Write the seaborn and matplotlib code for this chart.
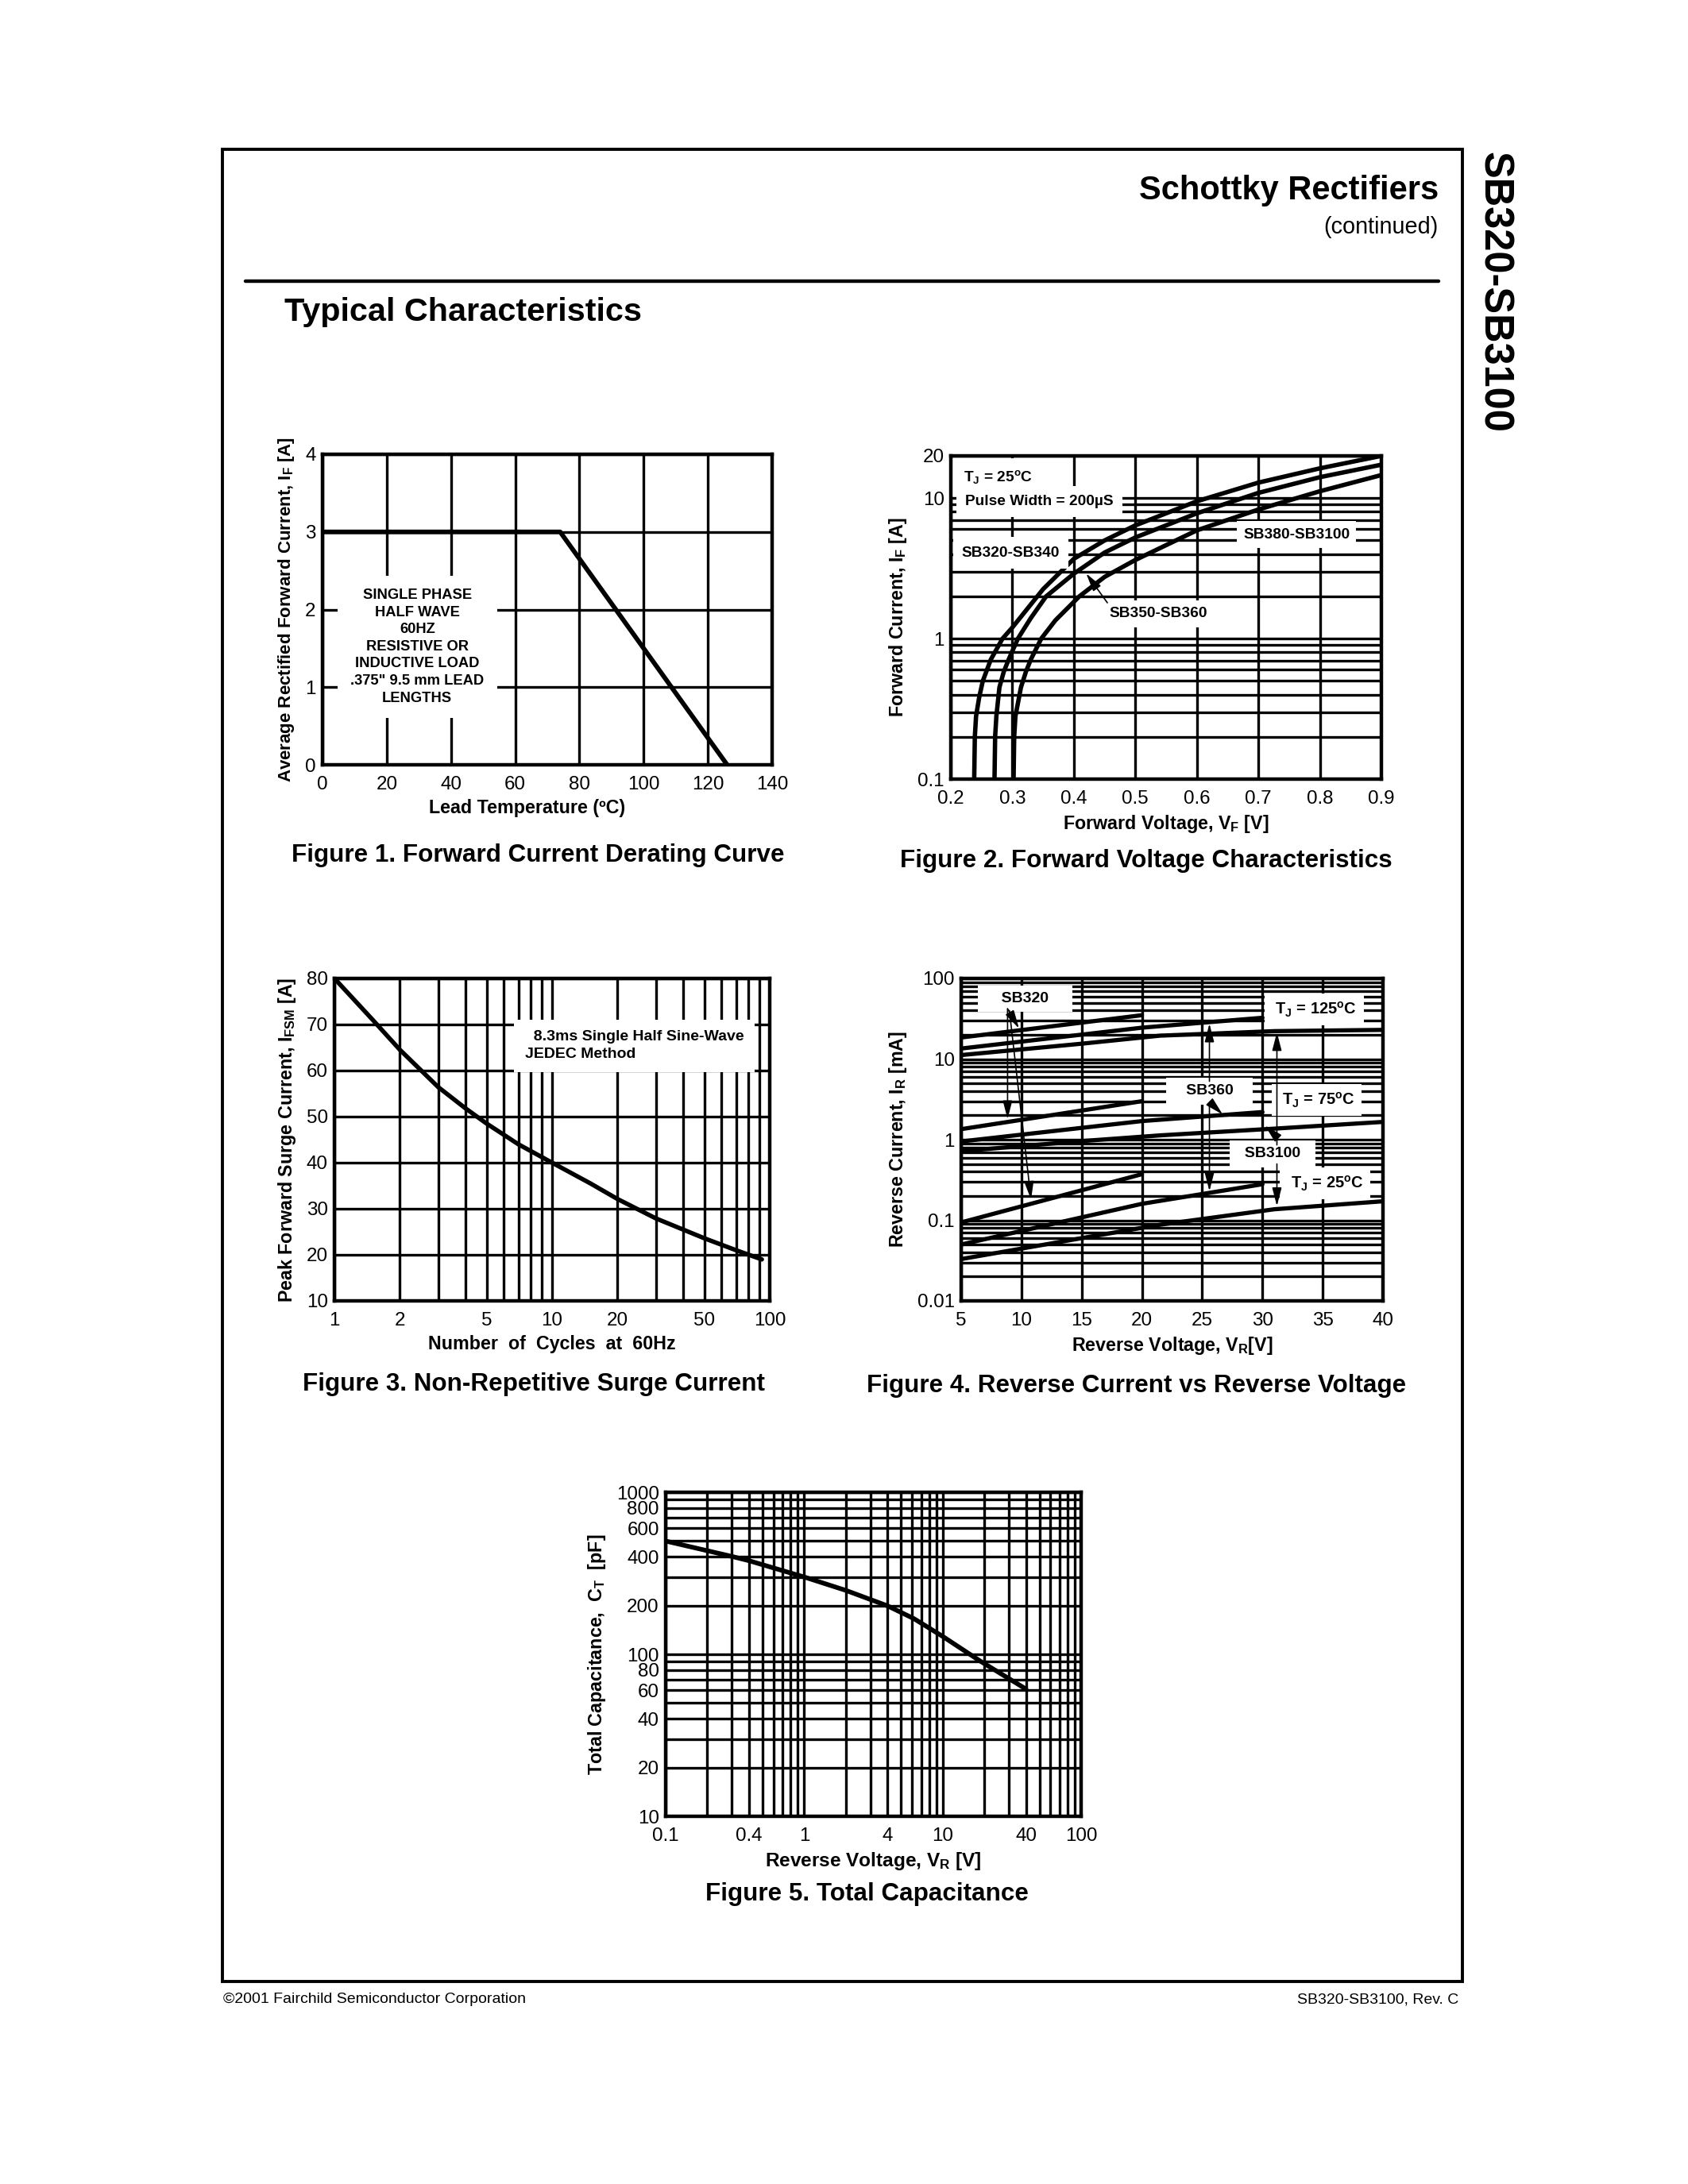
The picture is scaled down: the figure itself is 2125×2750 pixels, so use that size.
import matplotlib
matplotlib.use('Agg')
import matplotlib.pyplot as plt
import numpy as np
import pandas as pd
import seaborn as sns
from matplotlib.lines import Line2D
from matplotlib.patches import Rectangle
from matplotlib.ticker import NullFormatter

sns.set_theme(style='white')
plt.rcParams['font.family'] = ['Liberation Sans', 'DejaVu Sans']
plt.rcParams['mathtext.fontset'] = 'custom'
plt.rcParams['mathtext.rm'] = 'Liberation Sans'
plt.rcParams['mathtext.bf'] = 'Liberation Sans:bold'
plt.rcParams['mathtext.it'] = 'Liberation Sans:italic'
for k in ['text.color', 'axes.labelcolor', 'xtick.color', 'ytick.color']:
    plt.rcParams[k] = 'black'

W, H, DPI = 2125, 2750, 200

# ---------------- data ----------------
# Figure 1 - derating
lead_temp = [0, 74, 126]
avg_current = [3, 3, 0]

# Figure 2 - forward voltage
vf_320 = [0.238, 0.239, 0.241, 0.246, 0.252, 0.265, 0.284, 0.30, 0.35, 0.40, 0.45, 0.50, 0.60, 0.70, 0.80, 0.90]
if_320 = [0.1, 0.2, 0.28, 0.38, 0.5, 0.71, 1.0, 1.2, 2.25, 3.7, 5.0, 6.4, 9.5, 12.9, 16.3, 20.0]
vf_350 = [0.271, 0.272, 0.274, 0.279, 0.286, 0.294, 0.309, 0.33, 0.355, 0.40, 0.45, 0.50, 0.60, 0.70, 0.80, 0.90]
if_350 = [0.1, 0.2, 0.28, 0.45, 0.58, 0.71, 1.0, 1.4, 2.0, 2.9, 4.1, 5.25, 7.8, 10.9, 14.1, 17.3]
vf_380 = [0.302, 0.303, 0.305, 0.314, 0.322, 0.330, 0.347, 0.37, 0.409, 0.45, 0.50, 0.60, 0.70, 0.80, 0.90]
if_380 = [0.1, 0.2, 0.28, 0.45, 0.58, 0.71, 1.0, 1.35, 2.0, 2.75, 3.63, 5.9, 8.3, 11.2, 14.6]

# Figure 3 - surge current
cycles = [1, 1.5, 2, 3, 4, 5, 7, 10, 15, 20, 30, 50, 70, 92]
ifsm = [80, 71, 64.5, 56.4, 51.8, 48.5, 44, 40, 35.5, 32.1, 27.9, 23.6, 21, 19]

# Figure 4 - reverse current (mA)
vr_320 = [5, 20]
vr_360 = [5, 20, 30]
vr_3100 = [5, 15, 21.5, 31, 40]
ir_320_125 = [18.5, 35]
ir_360_125 = [13.5, 24.5, 32.5]
ir_3100_125 = [11.2, 15.5, 19.5, 22.2, 23]
ir_320_75 = [1.35, 3.0]
ir_360_75 = [0.95, 1.7, 2.2]
ir_3100_75 = [0.72, 0.96, 1.13, 1.37, 1.66]
ir_320_25 = [0.094, 0.373]
ir_360_25 = [0.05, 0.16, 0.28]
ir_3100_25 = [0.033, 0.06, 0.088, 0.137, 0.172]

# Figure 5 - capacitance
vr_cap = [0.1, 0.3, 0.4, 1, 2, 4, 6.2, 10, 18.6, 40]
ct = [500, 402, 378, 300, 248, 199, 166, 129, 91, 61]

fig = plt.figure(figsize=(W / DPI, H / DPI), dpi=DPI)


def rect(l, t, r, b):
    return [l / W, 1 - b / H, (r - l) / W, (b - t) / H]


def style_axes(ax):
    ax.set_axisbelow(True)
    ax.grid(True, which='both', color='black', linewidth=1.2)
    ax.tick_params(which='both', length=0, labelsize=8.7, pad=3)
    ax.tick_params(axis='x', which='both', pad=5)
    for s in ax.spines.values():
        s.set_color('black')
        s.set_linewidth(1.6)


def curve(ax, x, y, lw=2.0):
    sns.lineplot(x=x, y=y, ax=ax, color='black', linewidth=lw,
                 estimator=None, sort=False)


def note(ax, x, y, s, ha='center', size=6.8, pad=2.5, ls=1.2):
    ax.text(x, y, s, ha=ha, va='center', fontsize=size, fontweight='bold',
            linespacing=ls, zorder=2.2,
            bbox=dict(facecolor='white', edgecolor='none', pad=pad))


def arrow(ax, tail, head):
    ax.annotate('', xy=head, xytext=tail, zorder=3,
                arrowprops=dict(arrowstyle='-|>,head_length=0.7,head_width=0.18',
                                color='black', lw=0.6, mutation_scale=10,
                                shrinkA=0, shrinkB=0))


lab = dict(fontsize=8.4, fontweight='bold')
xlab = dict(fontsize=8.4, fontweight='bold', labelpad=2.5)

# ---------------- Figure 1 ----------------
ax1 = fig.add_axes(rect(406, 572, 972, 963))
style_axes(ax1)
ax1.set_xlim(0, 140)
ax1.set_ylim(0, 4)
ax1.set_xticks(range(0, 141, 20))
ax1.set_yticks(range(0, 5))
curve(ax1, lead_temp, avg_current, lw=2.1)
note(ax1, 29.5, 1.52,
     'SINGLE PHASE\nHALF WAVE\n60HZ\nRESISTIVE OR\nINDUCTIVE LOAD\n.375" 9.5 mm LEAD\nLENGTHS',
     size=6.6, pad=6, ls=1.35)
ax1.set_xlabel('Lead Temperature (ºC)', **xlab)
ax1.xaxis.label.set_x(0.455)
ax1.set_ylabel(r'Average Rectified Forward Current, I$_\mathbf{F}$ [A]', fontsize=8, fontweight='bold')

# ---------------- Figure 2 ----------------
ax2 = fig.add_axes(rect(1197, 574, 1739, 981))
style_axes(ax2)
ax2.set_yscale('log')
ax2.set_xlim(0.2, 0.9)
ax2.set_ylim(0.1, 20)
xt2 = [0.2, 0.3, 0.4, 0.5, 0.6, 0.7, 0.8, 0.9]
ax2.set_xticks(xt2, [f'{v:.1f}' for v in xt2])
ax2.set_yticks([0.1, 1, 10, 20], ['0.1', '1', '10', '20'])
ax2.set_yticks([m * d for d in (0.1, 1) for m in range(2, 10)], minor=True)
ax2.yaxis.set_minor_formatter(NullFormatter())
for vx, iy in [(vf_320, if_320), (vf_350, if_350), (vf_380, if_380)]:
    curve(ax2, vx, iy)
note(ax2, 0.221, 14.1, r'T$_\mathbf{J}$ = 25$^\mathbf{o}$C', ha='left', size=6.9, pad=5)
note(ax2, 0.223, 9.5, 'Pulse Width = 200µS', ha='left', size=6.9, pad=4)
note(ax2, 0.218, 4.08, 'SB320-SB340', ha='left', size=6.9, pad=4)
note(ax2, 0.762, 5.5, 'SB380-SB3100', size=6.9, pad=3)
note(ax2, 0.537, 1.5, 'SB350-SB360', size=6.9, pad=3)
arrow(ax2, (0.4545, 1.8), (0.42, 2.91))
ax2.set_xlabel(r'Forward Voltage, V$_\mathbf{F}$ [V]', **xlab)
ax2.set_ylabel(r'Forward Current, I$_\mathbf{F}$ [A]', **lab)

# ---------------- Figure 3 ----------------
ax3 = fig.add_axes(rect(421, 1232, 969, 1638))
style_axes(ax3)
ax3.set_xscale('log')
ax3.set_xlim(1, 100)
ax3.set_ylim(10, 80)
ax3.set_xticks([1, 2, 5, 10, 20, 50, 100], ['1', '2', '5', '10', '20', '50', '100'])
ax3.set_xticks([3, 4, 6, 7, 8, 9, 30, 40, 60, 70, 80, 90], minor=True)
ax3.xaxis.set_minor_formatter(NullFormatter())
ax3.set_yticks(range(10, 81, 10))
curve(ax3, cycles, ifsm)
ax3.text(7.5, 65.4, '  8.3ms Single Half Sine-Wave\nJEDEC Method', ha='left', va='center',
         fontsize=7, fontweight='bold', linespacing=1.35, zorder=2.2,
         bbox=dict(facecolor='white', edgecolor='none', pad=5))
ax3.set_xlabel('Number  of  Cycles  at  60Hz', **xlab)
ax3.set_ylabel(r'Peak Forward Surge Current, I$_\mathbf{FSM}$ [A]', **lab)

# ---------------- Figure 4 ----------------
ax4 = fig.add_axes(rect(1210, 1232, 1741, 1638))
style_axes(ax4)
ax4.set_yscale('log')
ax4.set_xlim(5, 40)
ax4.set_ylim(0.01, 100)
ax4.set_xticks(range(5, 41, 5))
ax4.set_yticks([0.01, 0.1, 1, 10, 100], ['0.01', '0.1', '1', '10', '100'])
ax4.set_yticks([m * d for d in (0.01, 0.1, 1, 10) for m in range(2, 10)], minor=True)
ax4.yaxis.set_minor_formatter(NullFormatter())
for vx, iy in [(vr_320, ir_320_125), (vr_360, ir_360_125), (vr_3100, ir_3100_125),
               (vr_320, ir_320_75), (vr_360, ir_360_75), (vr_3100, ir_3100_75),
               (vr_320, ir_320_25), (vr_360, ir_360_25), (vr_3100, ir_3100_25)]:
    curve(ax4, vx, iy, lw=1.9)
note(ax4, 10.3, 56, '    SB320    ', size=7, pad=3)
note(ax4, 25.6, 4.0, '   SB360   ', size=7, pad=3)
note(ax4, 30.85, 0.67, '  SB3100  ', size=7, pad=3)
note(ax4, 34.3, 41, r' T$_\mathbf{J}$ = 125$^\mathbf{o}$C ', size=7.2, pad=3)
note(ax4, 34.5, 3.1, r' T$_\mathbf{J}$ = 75$^\mathbf{o}$C ', size=7.2, pad=3)
note(ax4, 35.2, 0.285, r' T$_\mathbf{J}$ = 25$^\mathbf{o}$C ', size=7.2, pad=3)
arrow(ax4, (8.85, 42), (9.8, 24))
arrow(ax4, (8.85, 42), (8.85, 1.8))
arrow(ax4, (9.0, 40), (10.8, 0.18))
arrow(ax4, (25.6, 5.3), (25.6, 27.5))
arrow(ax4, (25.7, 2.86), (26.7, 2.05))
arrow(ax4, (25.6, 2.8), (25.6, 0.23))
arrow(ax4, (31.2, 0.86), (31.2, 21.5))
arrow(ax4, (31.0, 1.15), (30.2, 1.5))
arrow(ax4, (31.2, 0.5), (31.2, 0.15))
ax4.set_xlabel(r'Reverse Voltage, V$_\mathbf{R}$[V]', **xlab)
ax4.set_ylabel(r'Reverse Current, I$_\mathbf{R}$ [mA]', **lab)

# ---------------- Figure 5 ----------------
ax5 = fig.add_axes(rect(838, 1879, 1361, 2287))
style_axes(ax5)
ax5.set_xscale('log')
ax5.set_yscale('log')
ax5.set_xlim(0.1, 100)
ax5.set_ylim(10, 1000)
ax5.set_xticks([0.1, 0.4, 1, 4, 10, 40, 100], ['0.1', '0.4', '1', '4', '10', '40', '100'])
ax5.set_xticks([m * d for d in (0.1, 1, 10) for m in range(2, 10) if m != 4], minor=True)
ax5.set_yticks([10, 20, 40, 60, 80, 100, 200, 400, 600, 800, 1000],
               ['10', '20', '40', '60', '80', '100', '200', '400', '600', '800', '1000'])
ax5.set_yticks([30, 50, 70, 90, 300, 500, 700, 900], minor=True)
ax5.xaxis.set_minor_formatter(NullFormatter())
ax5.yaxis.set_minor_formatter(NullFormatter())
curve(ax5, vr_cap, ct, lw=2.1)
ax5.set_xlabel(r'Reverse Voltage, V$_\mathbf{R}$ [V]', fontsize=8.8, fontweight='bold', labelpad=2.5)
ax5.set_ylabel(r'Total Capacitance,  C$_\mathbf{T}$  [pF]', **lab)

# ---------------- captions ----------------
cap = dict(fontsize=11.3, fontweight='bold', ha='center', va='center')
fig.text(677 / W, 1 - 1077 / H, 'Figure 1. Forward Current Derating Curve', **cap)
fig.text(1443 / W, 1 - 1084 / H, 'Figure 2. Forward Voltage Characteristics', **cap)
fig.text(672 / W, 1 - 1743 / H, 'Figure 3. Non-Repetitive Surge Current', **cap)
fig.text(1431 / W, 1 - 1745 / H, 'Figure 4. Reverse Current vs Reverse Voltage', **cap)
fig.text(1091 / W, 1 - 2385 / H, 'Figure 5. Total Capacitance', **cap)

# ---------------- page furniture ----------------
fig.add_artist(Rectangle((280 / W, 1 - 2495 / H), (1841 - 280) / W, (2495 - 188) / H,
                         transform=fig.transFigure, fill=False, edgecolor='black', linewidth=1.4))
fig.add_artist(Line2D([309 / W, 1811 / W], [1 - 354 / H, 1 - 354 / H],
                      transform=fig.transFigure, color='black', linewidth=1.6))
fig.text(1811 / W, 1 - 240 / H, 'Schottky Rectifiers', fontsize=15, fontweight='bold',
         ha='right', va='center')
fig.text(1811 / W, 1 - 286 / H, '(continued)', fontsize=10.4, ha='right', va='center')
fig.text(358 / W, 1 - 393 / H, 'Typical Characteristics', fontsize=14.9, fontweight='bold',
         ha='left', va='center')
fig.text(1880 / W, 1 - 368 / H, 'SB320-SB3100', fontsize=18.2, fontweight='bold',
         rotation=270, ha='center', va='center')
fig.text(281 / W, 1 - 2518 / H, '©2001 Fairchild Semiconductor Corporation', fontsize=7,
         ha='left', va='center')
fig.text(1836 / W, 1 - 2518 / H, 'SB320-SB3100, Rev. C', fontsize=7, ha='right', va='center')

fig.savefig('out.png', dpi=DPI, facecolor='white')
